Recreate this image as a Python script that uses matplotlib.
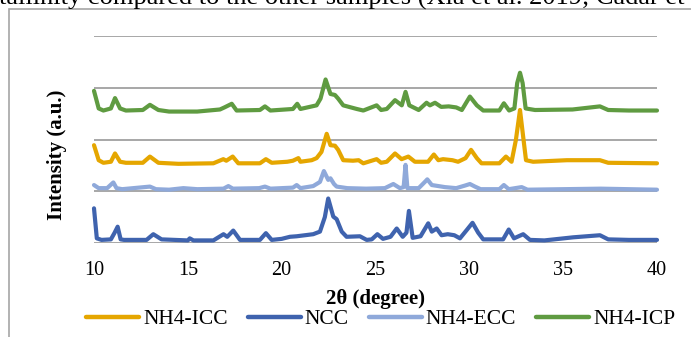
import matplotlib
matplotlib.use("Agg")
import matplotlib.pyplot as plt
from matplotlib.patches import Rectangle

# ---- data (2theta in degrees, stacked intensity in a.u.) ----
ncc_x = [10.0, 10.15, 10.4, 10.9, 11.1, 11.26, 11.42, 11.6, 12.8, 13.16, 13.6, 15.0, 15.1, 15.3,
         16.36, 16.9, 17.1, 17.42, 17.78, 18.84, 19.16, 19.47, 20.0, 20.44, 20.8, 21.68, 22.04,
         22.3, 22.48, 22.75, 22.93, 23.2, 23.46, 24.17, 24.53, 24.8, 25.1, 25.4, 25.8, 26.13,
         26.45, 26.65, 26.78, 26.98, 27.4, 27.81, 28.0, 28.26, 28.52, 28.85, 29.2, 29.5, 29.86,
         30.17, 30.47, 30.74, 31.8, 32.1, 32.38, 32.87, 33.23, 34.0, 35.54, 36.96, 37.4, 38.5, 40.0]
ncc_y = [0.67, 0.09, 0.06, 0.07, 0.2, 0.315, 0.07, 0.06, 0.06, 0.17, 0.07, 0.05, 0.09, 0.05,
         0.05, 0.17, 0.12, 0.24, 0.06, 0.06, 0.19, 0.06, 0.08, 0.12, 0.13, 0.17, 0.22,
         0.5, 0.86, 0.51, 0.46, 0.22, 0.12, 0.13, 0.06, 0.07, 0.17, 0.08, 0.12, 0.28,
         0.12, 0.2, 0.62, 0.1, 0.13, 0.38, 0.22, 0.28, 0.15, 0.17, 0.15, 0.09, 0.25,
         0.39, 0.2, 0.07, 0.07, 0.26, 0.09, 0.17, 0.06, 0.05, 0.11, 0.15, 0.07, 0.06, 0.06]

ecc_x = [10.0, 10.25, 10.7, 11.03, 11.2, 11.5, 12.98, 13.3, 14.0, 14.76, 15.5, 16.9, 17.16, 17.4,
         18.8, 19.11, 19.4, 20.6, 20.8, 21.0, 21.68, 22.04, 22.25, 22.48, 22.6, 22.79, 22.93,
         23.5, 24.5, 25.5, 25.95, 26.3, 26.5, 26.6, 26.7, 27.3, 27.63, 27.76, 28.0, 28.7, 29.3,
         29.77, 30.03, 30.3, 30.6, 31.6, 31.84, 32.1, 32.79, 33.1, 35.0, 37.0, 40.0]
ecc_y = [1.12, 1.06, 1.06, 1.17, 1.06, 1.04, 1.09, 1.04, 1.03, 1.06, 1.04, 1.05, 1.1, 1.05,
         1.06, 1.09, 1.05, 1.07, 1.12, 1.06, 1.1, 1.18, 1.39, 1.22, 1.25, 1.14, 1.09,
         1.06, 1.05, 1.06, 1.14, 1.06, 1.08, 1.51, 1.06, 1.06, 1.18, 1.23, 1.12, 1.08, 1.06,
         1.11, 1.14, 1.09, 1.04, 1.04, 1.12, 1.04, 1.08, 1.03, 1.04, 1.05, 1.03]

icc_x = [10.0, 10.25, 10.5, 10.9, 11.12, 11.39, 11.7, 12.6, 12.98, 13.43, 14.5, 16.36, 16.89,
         17.05, 17.39, 17.69, 18.84, 19.16, 19.47, 20.3, 20.6, 20.89, 21.0, 21.6, 21.86, 22.12,
         22.4, 22.6, 22.84, 23.01, 23.28, 23.8, 24.1, 24.35, 25.06, 25.3, 25.6, 26.04, 26.39,
         26.75, 27.1, 27.8, 28.11, 28.35, 28.6, 29.1, 29.4, 29.8, 30.09, 30.4, 30.65, 31.6,
         31.95, 32.25, 32.48, 32.7, 32.87, 33.02, 33.4, 35.2, 36.96, 37.4, 40.0]
icc_y = [1.89, 1.6, 1.55, 1.57, 1.73, 1.57, 1.55, 1.55, 1.67, 1.55, 1.53, 1.54, 1.62,
         1.59, 1.67, 1.54, 1.54, 1.62, 1.55, 1.57, 1.59, 1.64, 1.57, 1.6, 1.64, 1.76,
         2.11, 1.89, 1.88, 1.8, 1.6, 1.59, 1.6, 1.54, 1.62, 1.55, 1.57, 1.73, 1.62,
         1.67, 1.57, 1.57, 1.71, 1.6, 1.62, 1.6, 1.57, 1.64, 1.8, 1.64, 1.54, 1.54,
         1.67, 1.57, 1.99, 2.57, 2.05, 1.6, 1.57, 1.6, 1.6, 1.55, 1.54]

icp_x = [10.0, 10.25, 10.5, 10.9, 11.12, 11.39, 11.7, 12.6, 12.98, 13.43, 14.0, 15.5, 16.71,
         16.95, 17.34, 17.6, 18.84, 19.11, 19.4, 20.6, 20.83, 21.0, 21.86, 22.07, 22.34, 22.6,
         22.84, 23.01, 23.28, 24.0, 24.35, 25.06, 25.3, 25.6, 26.04, 26.4, 26.6, 26.8, 27.3,
         27.72, 27.9, 28.17, 28.5, 28.9, 29.3, 29.6, 30.03, 30.4, 30.74, 31.6, 31.84, 32.12,
         32.4, 32.55, 32.7, 32.84, 33.0, 33.5, 35.5, 36.96, 37.4, 38.5, 40.0]
icp_y = [2.94, 2.6, 2.56, 2.6, 2.8, 2.6, 2.56, 2.57, 2.67, 2.57, 2.54, 2.54, 2.58,
         2.62, 2.69, 2.56, 2.57, 2.64, 2.56, 2.59, 2.69, 2.59, 2.66, 2.79, 3.16, 2.88,
         2.86, 2.79, 2.66, 2.59, 2.56, 2.66, 2.57, 2.59, 2.76, 2.66, 2.92, 2.66, 2.57,
         2.71, 2.66, 2.71, 2.63, 2.64, 2.62, 2.57, 2.83, 2.66, 2.56, 2.56, 2.7, 2.56,
         2.6, 3.09, 3.29, 3.09, 2.6, 2.57, 2.58, 2.64, 2.57, 2.56, 2.56]

series_names = ["NH4-ICC", "NCC", "NH4-ECC", "NH4-ICP"]
series_colors = ["#E5A600", "#3F63AE", "#8FA9DA", "#5F9B41"]
x_ticks = [10, 15, 20, 25, 30, 35, 40]
y_grid = [0, 1, 2, 3, 4]

W, H = 691, 337
plt.rcParams['font.family'] = ['Liberation Serif', 'DejaVu Serif']
fig = plt.figure(figsize=(W / 100, H / 100), dpi=100)

def fx(px):
    return px / W

def fy(py):
    return 1 - py / H

# page text (clipped at top)
fig.text(fx(-1), fy(5), "tallinity compared to the other samples (Xia et al. 2019; Cadar et al. 2020)",
         fontsize=19, va='baseline', ha='left', color='black')

# chart frame
fig.add_artist(Rectangle((fx(9), -0.2), 1.2, fy(9) + 0.2, transform=fig.transFigure,
                         fill=False, edgecolor='#A6A6A6', lw=1.2))

ax = fig.add_axes([fx(94), fy(243), fx(657) - fx(94), fy(36) - fy(243)])
ax.set_xlim(10, 40)
ax.set_ylim(0, 4)
ax.set_yticks(y_grid)
ax.set_yticklabels([])
ax.set_xticks(x_ticks)
ax.set_xticklabels([str(t) for t in x_ticks])
ax.tick_params(axis='both', length=0)
ax.tick_params(axis='x', pad=13, labelsize=14.5)
ax.grid(axis='y', color='#A0A0A0', lw=1.3)
ax.set_axisbelow(True)
for s in ax.spines.values():
    s.set_visible(False)

data = [(icc_x, icc_y), (ncc_x, ncc_y), (ecc_x, ecc_y), (icp_x, icp_y)]
for (xs, ys), name, c in zip(data, series_names, series_colors):
    ax.plot(xs, ys, color=c, lw=3.0, label=name, solid_joinstyle='round',
            solid_capstyle='round', clip_on=False)

fig.text(fx(375), fy(299), "2θ (degree)", fontsize=15, fontweight='bold', ha='center', va='center')
fig.text(fx(57), fy(155), "Intensity (a.u.)", fontsize=15, fontweight='bold', ha='center',
         va='center', rotation=90)

leg = fig.legend(loc='center left', bbox_to_anchor=(fx(86), fy(319)), ncol=4, frameon=False,
                 fontsize=15.5, handlelength=2.46, handletextpad=0.19, columnspacing=0.93,
                 borderpad=0, borderaxespad=0)
for line in leg.get_lines():
    line.set_linewidth(3.2)

fig.savefig("out.png", dpi=100)
